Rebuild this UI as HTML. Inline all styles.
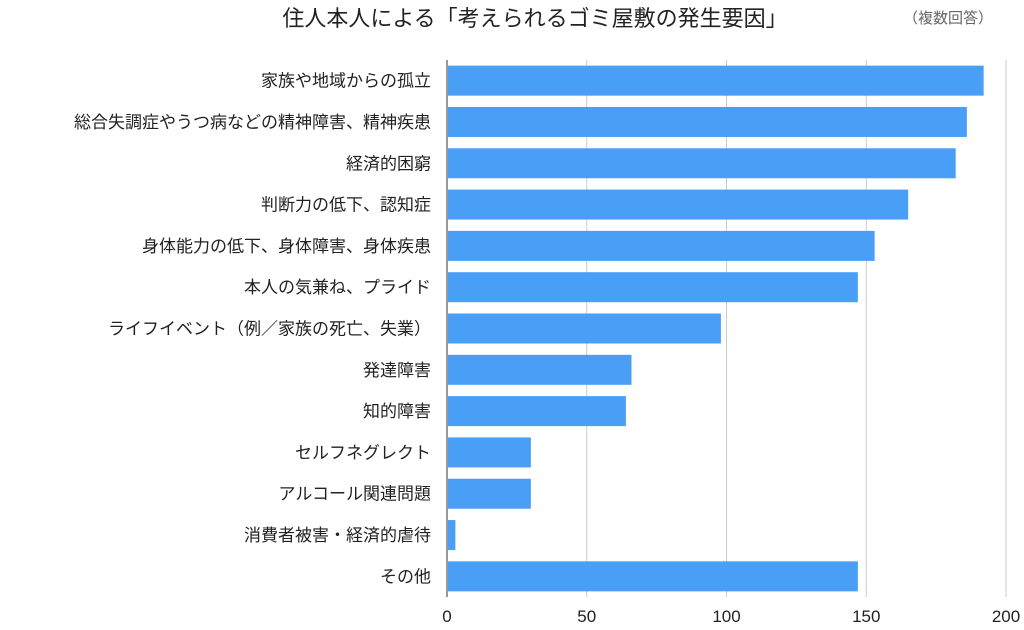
<!DOCTYPE html>
<html><head><meta charset="utf-8">
<style>
body{margin:0;background:#fff;width:1024px;height:625px;overflow:hidden;font-family:"Liberation Sans","Noto Sans CJK JP",sans-serif;}
</style></head>
<body>
<svg id="chart" width="1024" height="625" xmlns="http://www.w3.org/2000/svg" font-family="Liberation Sans, Noto Sans CJK JP, sans-serif">
<text x="535" y="26" text-anchor="middle" font-size="22" fill="#222">住人本人による「考えられるゴミ屋敷の発生要因」</text>
<text x="948" y="23" text-anchor="middle" font-size="15" fill="#666">（複数回答）</text>
<g id="grid"></g><g id="bars"></g><g id="labels"></g><g id="ticks"></g>
</svg>
<script>
const categories=["家族や地域からの孤立","総合失調症やうつ病などの精神障害、精神疾患","経済的困窮","判断力の低下、認知症","身体能力の低下、身体障害、身体疾患","本人の気兼ね、プライド","ライフイベント（例／家族の死亡、失業）","発達障害","知的障害","セルフネグレクト","アルコール関連問題","消費者被害・経済的虐待","その他"];
const values=[192,186,182,165,153,147,98,66,64,30,30,3,147];
const tickValues=[0,50,100,150,200];
const NS="http://www.w3.org/2000/svg";
const x0=447,xMax=200,xEnd=1006,plotTop=60,plotBottom=597;
const xs=v=>x0+(xEnd-x0)*v/xMax;
const step=(plotBottom-plotTop)/categories.length;
const ys=i=>plotTop+step*i+(step-30)/2;
function mk(t,a,p){const e=document.createElementNS(NS,t);for(const k in a)e.setAttribute(k,a[k]);document.getElementById(p).appendChild(e);return e;}
tickValues.forEach(v=>{
  const l=mk("line",{x1:xs(v),x2:xs(v),y1:plotTop,y2:plotBottom,stroke:v===0?"#333":"#ccc","stroke-width":1},"grid");
  
  
  const t=mk("text",{x:xs(v),y:622,"text-anchor":"middle","font-size":17,fill:"#222"},"ticks");
  t.textContent=v;
  
  
});
categories.forEach((c,i)=>{
  const r=mk("rect",{x:x0+1,y:ys(i),width:Math.max(0,xs(values[i])-x0-1),height:30,fill:"#489ff5"},"bars");
  
  
  const t=mk("text",{x:431,y:ys(i)+21,"text-anchor":"end","font-size":17,fill:"#222"},"labels");
  t.textContent=c;
  
  
});
</script>
</body></html>
